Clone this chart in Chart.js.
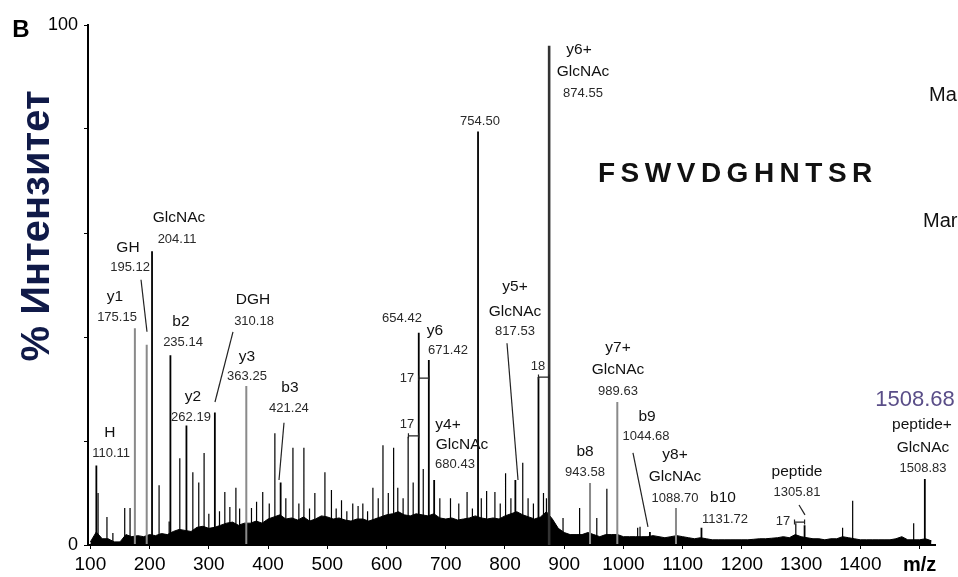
<!DOCTYPE html>
<html><head><meta charset="utf-8">
<script src="https://cdn.jsdelivr.net/npm/chart.js@4.4.1/dist/chart.umd.min.js"></script>
<style>html,body{margin:0;padding:0;background:#fff;}#wrap{position:relative;width:958px;height:577px;}</style>
</head><body><div id="wrap"><canvas id="c" width="958" height="577"></canvas></div>
<script>
// ---- axis ticks ----
const xTickValues = [100,200,300,400,500,600,700,800,900,1000,1100,1200,1300,1400,1500];
const xTickLabels = ['100','200','300','400','500','600','700','800','900','1000','1100','1200','1300','1400','m/z'];
const yTickValues = [0,20,40,60,80,100];
const yTickLabels = ['0','','','','','100'];

// ---- assigned fragment peaks (m/z, % intensity) ----
const assignedMz  = [110.11,204.11,235.14,262.19,310.18,421.24,654.42,671.42,680.43,754.50,817.53,856.55,1044.68,1131.72,1305.81,1508.83];
const assignedInt = [15.3,  56.5,  36.5,  23.0,  25.5,  12.0,  40.8,  35.6,  12.5,  79.5,  12.5,  32.3,  2.5,    3.3,    3.8,    12.7];

// ---- base peak ----
const basePeakMz  = [874.55];
const basePeakInt = [96.0];

// ---- assigned peaks shown lighter in the figure ----
const lightMz  = [175.15,195.12,363.25,943.58,989.63,1088.70];
const lightInt = [41.7,  38.5,  30.6,  11.9,  27.5,  7.1];

// ---- other visible peaks ----
const otherMz  = [113,128,138,158,167,216,233,251,273,283,292,300,318,327,335.5,345.7,352,372,380.6,391,402,411.5,430,442,452,460.5,470,479,496,507,515,524,533,543,552,560,568,577,586,594,603,612,619,628,636.5,645,662,690,708,722,736,745,760,769,783,792,801,810,830,839,848,865,870,898,926,955,972,1024,1028,1291,1370,1387,1490];
const otherInt = [10, 5.4,2.3,7.1,7.1,11.5,4.5,16.7,14,12,17.7,6,6.5,10.2,7.3,11,7,7.1,8.3,10.2,8,21.5,9,18.7,8,18.7,7,10,14,10.6,7,8.6,6.5,8,7.5,8,6.5,11,9,19.2,10,18.7,11,9,20.8,12,14.6,9,9,8,10.2,7,9,10.4,10.2,8,13.8,9,15.8,9,8,10,9,5.2,7.1,5.2,10.8,3.3,3.5,4.2,3.3,8.5,4.2];

// ---- dense low-level noise envelope ----
const noiseMz = [100,110,120,130,140,150,160,170,180,190,200,210,220,230,240,250,260,270,280,290,300,310,320,330,340,350,360,370,380,390,400,410,420,430,440,450,460,470,480,490,500,510,520,530,540,550,560,570,580,590,600,610,620,630,640,650,660,670,680,690,700,710,720,730,740,750,760,770,780,790,800,810,820,830,840,850,860,870,880,890,900,910,920,930,940,950,960,970,980,990,1000,1010,1020,1030,1040,1050,1060,1070,1080,1090,1100,1110,1120,1130,1140,1150,1160,1170,1180,1190,1200,1210,1220,1230,1240,1250,1260,1270,1280,1290,1300,1310,1320,1330,1340,1350,1360,1370,1380,1390,1400,1410,1420,1430,1440,1450,1460,1470,1480,1490,1500,1510,1520];
const noiseInt = [0.6,2.5,1.2,1.2,0.6,0.6,2.0,1.6,1.8,1.6,2.0,1.8,2.2,2.0,2.6,3.0,2.8,2.6,3.4,3.6,3.2,3.4,3.8,4.2,4.4,3.8,4.2,4.2,4.6,4.2,5.0,5.4,5.8,5.0,5.2,4.8,5.4,4.6,5.0,5.6,5.4,5.0,5.2,4.8,4.6,5.0,5.0,4.6,5.0,5.4,5.8,6.0,6.4,5.8,5.6,6.0,5.8,5.6,6.0,5.2,5.0,5.2,4.8,5.0,5.2,5.6,5.2,5.0,5.2,5.0,5.6,6.0,6.4,5.8,5.4,5.0,5.4,6.4,5.0,3.2,2.4,2.0,2.0,2.0,2.4,2.0,1.6,2.0,2.0,2.0,1.6,1.6,1.6,1.6,1.6,1.8,1.6,1.4,1.6,1.8,1.6,1.4,1.2,1.4,1.2,1.0,1.0,1.0,1.0,1.0,1.0,1.0,1.1,1.2,1.2,1.3,1.4,1.6,1.4,2.0,1.6,1.4,1.2,1.2,1.0,1.2,1.2,1.6,1.4,1.2,1.0,1.0,1.0,1.0,1.0,1.0,1.2,1.6,1.0,1.0,1.0,1.2,0.8];

// ---- peak annotations: text, m/z, intensity (label centre), kind ----
const peakLabels = [
 ['H',133,21.5,'n'],['110.11',135,17.7,'v'],
 ['y1',141.6,47.7,'n'],['175.15',145,43.8,'v'],
 ['GH',163.5,57.1,'n'],['195.12',167,53.3,'v'],
 ['GlcNAc',249.6,62.9,'n'],['204.11',246.3,58.8,'v'],
 ['b2',253,42.9,'n'],['235.14',256.4,39.0,'v'],
 ['y2',273.3,28.5,'n'],['262.19',269.9,24.6,'v'],
 ['DGH',374.6,47.1,'n'],['310.18',376.3,42.9,'v'],
 ['y3',364.4,36.2,'n'],['363.25',364.4,32.5,'v'],
 ['b3',437,30.2,'n'],['421.24',435.3,26.2,'v'],
 ['654.42',626.1,43.5,'v'],
 ['y6',681.8,41.3,'n'],['671.42',703.8,37.5,'v'],
 ['754.50',757.8,81.5,'v'],
 ['y6+',925,95.2,'n'],['GlcNAc',931.7,91.0,'n'],['874.55',931.7,86.9,'v'],
 ['y5+',816.9,49.6,'n'],['GlcNAc',816.9,44.8,'n'],['817.53',816.9,41.0,'v'],
 ['y4+',703.8,23.1,'n'],['GlcNAc',727.4,19.2,'n'],['680.43',715.6,15.4,'v'],
 ['y7+',990.8,37.9,'n'],['GlcNAc',990.8,33.7,'n'],['989.63',990.8,29.6,'v'],
 ['b8',935.1,17.9,'n'],['943.58',935.1,14.0,'v'],
 ['b9',1039.8,24.6,'n'],['1044.68',1038.1,20.8,'v'],
 ['y8+',1087,17.3,'n'],['GlcNAc',1087,13.1,'n'],['1088.70',1087,9.0,'v'],
 ['b10',1168.1,9.0,'n'],['1131.72',1171.4,5.0,'v'],
 ['peptide',1293,14.0,'n'],['1305.81',1293,10.2,'v'],
 ['peptide+',1504,23.1,'n'],['GlcNAc',1505.7,18.8,'n'],['1508.83',1505.7,14.8,'v'],
 ['17',634.6,32.1,'v'],['17',634.6,23.1,'v'],['18',855.7,34.4,'v'],['17',1269.4,4.6,'v']
];
// leader lines: from (m/z, int) to (m/z, int)
const leaderLines = [[185.5,51,195.6,41],[340.8,41,310.4,27.5],[426.9,23.5,418.5,12.5],[803.4,38.8,822,12.5],[1016.1,17.7,1041.4,3.5],[1296.4,7.7,1306.5,5.8]];
// mass-difference brackets: m/z from, m/z to, intensity
const diffBrackets = [[654.42,671.42,32.1],[637,654.42,21],[856.55,874.55,32.3],[1288.8,1305.81,4.4]];

function sticks(mz, it){
  const pts=[];
  for(let i=0;i<mz.length;i++){pts.push({x:mz[i],y:0},{x:mz[i],y:it[i]},{x:mz[i],y:0});}
  return pts;
}
function zip(a,b){return a.map((v,i)=>({x:v,y:b[i]}));}

const FONT = '"Liberation Sans", Arial, Helvetica, sans-serif';

const annot = {
  id:'annot',
  afterDraw(chart){
    const {ctx, scales:{x,y}} = chart;
    ctx.save();
    ctx.textAlign='center'; ctx.textBaseline='middle';
    for(const [t,mx,my,k] of peakLabels){
      ctx.font = (k==='n' ? '15.5px ' : '13px ') + FONT;
      ctx.fillStyle = k==='n' ? '#111' : '#2a2a2a';
      ctx.fillText(t, x.getPixelForValue(mx), y.getPixelForValue(my));
    }
    ctx.strokeStyle='#222'; ctx.lineWidth=1.2;
    for(const [a,b,c,d] of leaderLines){
      ctx.beginPath();
      ctx.moveTo(x.getPixelForValue(a), y.getPixelForValue(b));
      ctx.lineTo(x.getPixelForValue(c), y.getPixelForValue(d));
      ctx.stroke();
    }
    for(const [a,b,c] of diffBrackets){
      const x1=x.getPixelForValue(a), x2=x.getPixelForValue(b), yy=y.getPixelForValue(c);
      ctx.beginPath();
      ctx.moveTo(x1,yy); ctx.lineTo(x2,yy);
      ctx.moveTo(x1,yy-2.5); ctx.lineTo(x1,yy+2.5);
      ctx.moveTo(x2,yy-2.5); ctx.lineTo(x2,yy+2.5);
      ctx.stroke();
    }
    // panel letter
    ctx.fillStyle='#000'; ctx.font='bold 24px '+FONT; ctx.textAlign='center';
    ctx.fillText('B', 21, 30);
    // y axis title
    ctx.save();
    ctx.translate(38, 226); ctx.rotate(-Math.PI/2);
    ctx.font='bold 40px '+FONT; ctx.fillStyle='#101a48';
    ctx.fillText('% Интензитет', 0, 0);
    ctx.restore();
    // peptide sequence
    ctx.font='bold 28px '+FONT; ctx.fillStyle='#111';
    ctx.textAlign='left';
    ctx.letterSpacing='5.5px';
    ctx.fillText('FSWVDGHNTSR', 598, 174);
    ctx.letterSpacing='0px';
    // precursor value
    ctx.font='22px '+FONT; ctx.fillStyle='#5a4e88'; ctx.textAlign='center';
    ctx.fillText('1508.68', 915, 400);
    // clipped text from neighbouring panel
    ctx.font='20px '+FONT; ctx.fillStyle='#111'; ctx.textAlign='left';
    ctx.fillText('Ma', 929, 95);
    ctx.fillText('Mar', 923, 221);
    ctx.restore();
  }
};

new Chart(document.getElementById('c'), {
  type:'scatter',
  data:{datasets:[
    {label:'base peak', data:sticks(basePeakMz,basePeakInt), showLine:true, borderColor:'#333', borderWidth:2.6, pointRadius:0, tension:0},
    {label:'assigned', data:sticks(assignedMz,assignedInt), showLine:true, borderColor:'#000', borderWidth:1.8, pointRadius:0, tension:0},
    {label:'assigned (light)', data:sticks(lightMz,lightInt), showLine:true, borderColor:'#8a8a8a', borderWidth:2, pointRadius:0, tension:0},
    {label:'other', data:sticks(otherMz,otherInt), showLine:true, borderColor:'#000', borderWidth:1.2, pointRadius:0, tension:0},
    {label:'noise', data:zip(noiseMz,noiseInt), showLine:true, borderColor:'#000', borderWidth:1, backgroundColor:'#000', fill:'origin', pointRadius:0, tension:0}
  ]},
  options:{
    responsive:false, animation:false, devicePixelRatio:1,
    layout:{padding:{top:25,right:23,left:0,bottom:0}},
    plugins:{legend:{display:false}, tooltip:{enabled:false}},
    scales:{
      x:{type:'linear', min:96, max:1526,
        afterBuildTicks:s=>{s.ticks=xTickValues.map(v=>({value:v}));},
        afterFit:s=>{s.height=32;},
        ticks:{autoSkip:false, maxRotation:0, color:'#000', padding:4,
          callback:v=>{const i=xTickValues.indexOf(v);return i<0?'':xTickLabels[i];},
          font:c=>(c.tick && c.tick.value===1500)?{family:FONT,size:20,weight:'bold'}:{family:FONT,size:19}},
        grid:{display:true, drawOnChartArea:false, drawTicks:true, tickLength:4, color:'#000', tickColor:'#000'},
        border:{display:true, color:'#000', width:2}},
      y:{type:'linear', min:0, max:100,
        afterBuildTicks:s=>{s.ticks=yTickValues.map(v=>({value:v}));},
        afterFit:s=>{s.width=88;},
        ticks:{autoSkip:false, color:'#000', padding:6,
          callback:v=>{const i=yTickValues.indexOf(v);return i<0?'':yTickLabels[i];},
          font:{family:FONT,size:18}},
        grid:{display:true, drawOnChartArea:false, drawTicks:true, tickLength:4, color:'#000', tickColor:'#000'},
        border:{display:true, color:'#000', width:2}}
    }
  },
  plugins:[annot]
});
</script></body></html>
